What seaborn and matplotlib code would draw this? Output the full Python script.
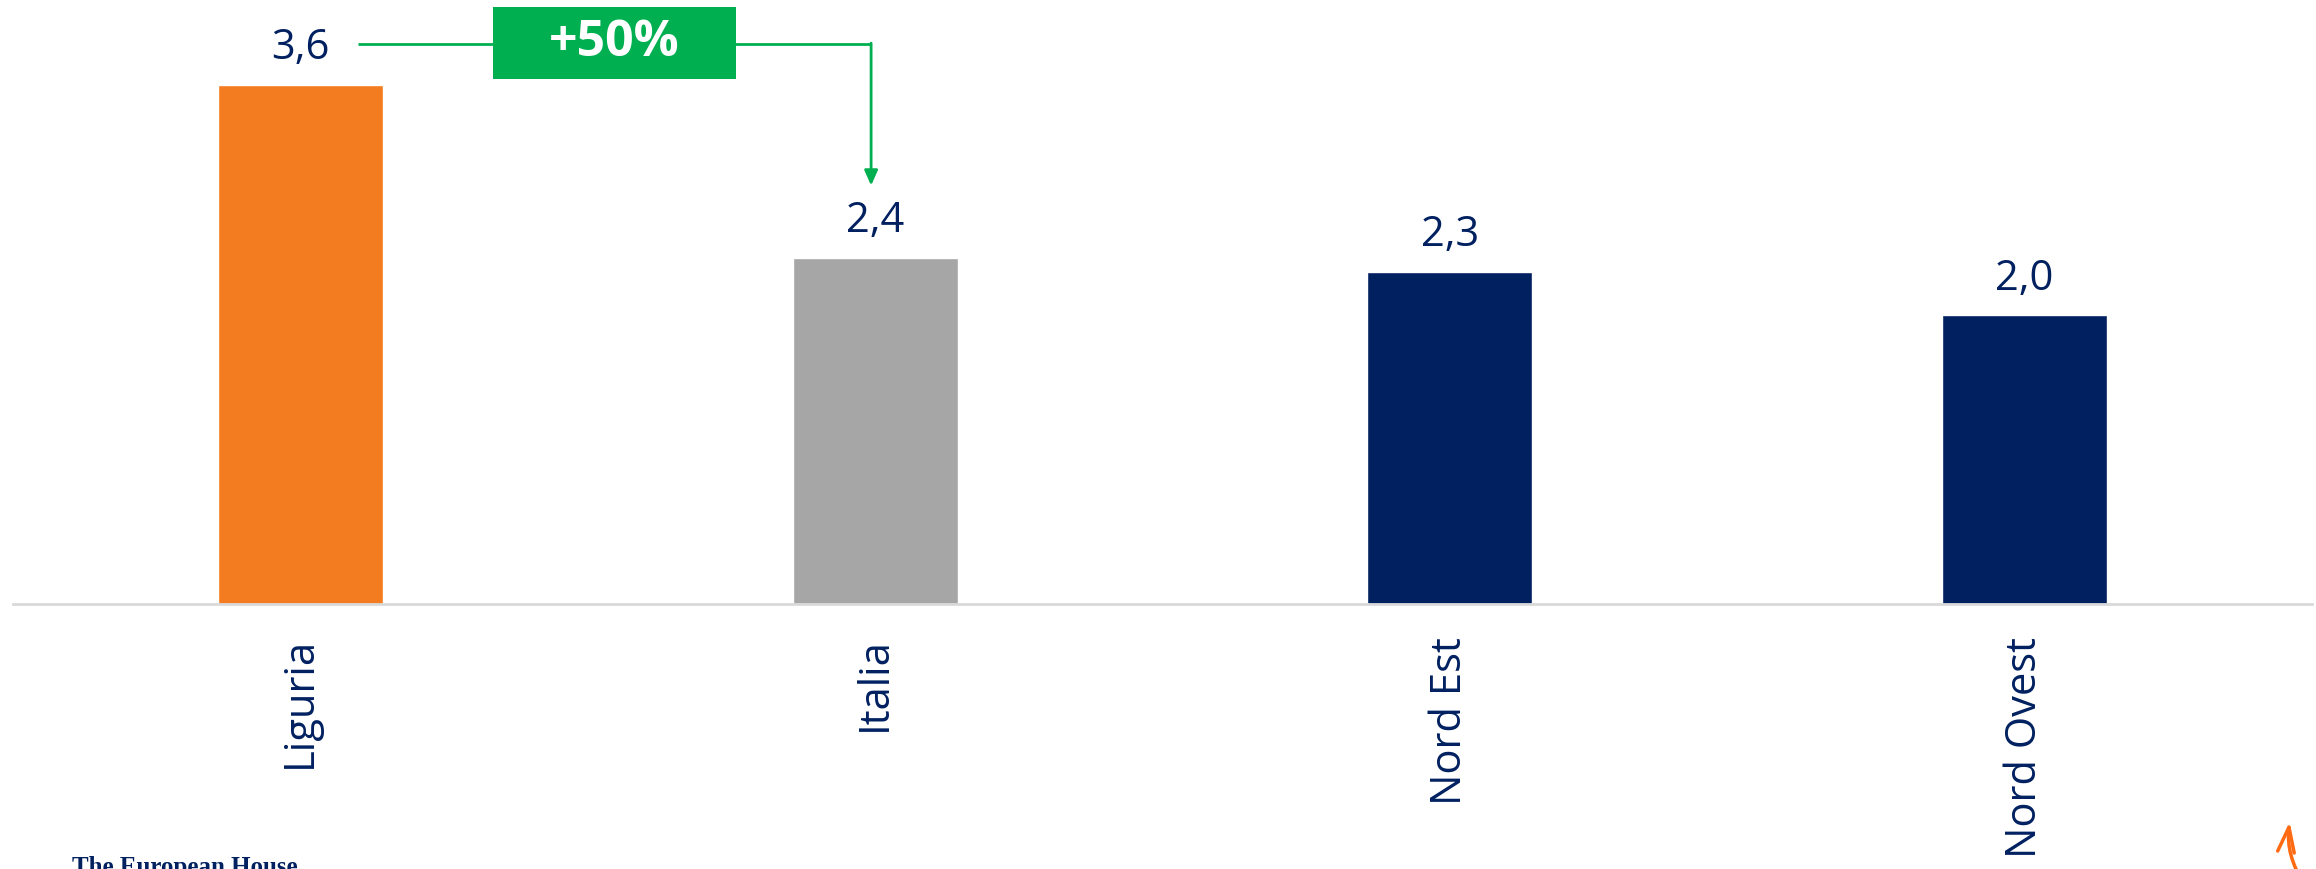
import numpy as np
import seaborn as sns
import matplotlib.pyplot as plt
import pandas as pd
from matplotlib.patches import Rectangle, FancyArrowPatch

# dati
regioni = ["Liguria", "Italia", "Nord Est", "Nord Ovest"]
valori = [3.6, 2.4, 2.3, 2.0]
etichette = ["3,6", "2,4", "2,3", "2,0"]
colori = ["#F47C20", "#A6A6A6", "#002060", "#002060"]
variazione = "+50%"

df = pd.DataFrame({"Regione": regioni, "Valore": valori})

sns.set_style("white")
plt.rcParams["font.family"] = ["Open Sans", "DejaVu Sans"]

navy = "#002060"
verde = "#00B050"

fig = plt.figure(figsize=(23.16, 8.69), dpi=100)
ax = fig.add_axes([0.0056, 0.305, 0.9927, 0.694])

sns.barplot(data=df, x="Regione", y="Valore", hue="Regione", palette=colori,
            legend=False, width=0.287, saturation=1, ax=ax)

ax.set_xlim(-0.5, 3.5)
ax.set_ylim(0, 4.18)
ax.set_xlabel("")
ax.set_ylabel("")
ax.set_yticks([])
for s in ["top", "right", "left"]:
    ax.spines[s].set_visible(False)
ax.spines["bottom"].set_color("#D9D9D9")
ax.spines["bottom"].set_linewidth(2)
ax.tick_params(axis="x", length=0, pad=24, labelsize=30, labelcolor=navy)
plt.setp(ax.get_xticklabels(), rotation=90)

# etichette valori
for i, (v, t) in enumerate(zip(valori, etichette)):
    ax.annotate(t, (i, v), xytext=(0, 18.5), textcoords="offset points",
                ha="center", va="baseline", fontsize=30, color=navy)

# freccia +50%
y_linea = valori[0] + 0.28
x_inizio = 0.1
x_fine = 1 - 0.007
ax.plot([x_inizio, x_fine], [y_linea, y_linea], color=verde, lw=2, solid_capstyle="butt")
ax.annotate("", xy=(x_fine, valori[1] + 0.5), xytext=(x_fine, y_linea + 0.007),
            arrowprops=dict(arrowstyle="-|>,head_width=0.4,head_length=0.9",
                            color=verde, lw=2, shrinkA=0, shrinkB=0))
x_box = (x_inizio + x_fine) / 2
ax.add_patch(Rectangle((x_box - 0.211, y_linea - 0.24), 0.422, 0.5,
                       facecolor=verde, edgecolor="none", zorder=3, clip_on=False))
ax.text(x_box, y_linea + 0.01, variazione, ha="center", va="center", fontsize=36,
        fontweight="bold", color="white", zorder=4)

# logo in basso a sinistra (tagliato come nell'originale)
fig.text(0.031, -0.006, "The European House", family=["Liberation Serif", "DejaVu Serif"],
         fontweight="bold", fontsize=18, color=navy, va="baseline", ha="left")

# freccia arancione in basso a destra (tagliata)
fig.add_artist(FancyArrowPatch((2306 / 2316, -0.02), (2290 / 2316, (869 - 819) / 869),
                               transform=fig.transFigure, connectionstyle="arc3,rad=-0.2",
                               arrowstyle="->,head_width=6,head_length=18",
                               color="#FF6A13", lw=2.5))

fig.savefig("out.png", dpi=100)
